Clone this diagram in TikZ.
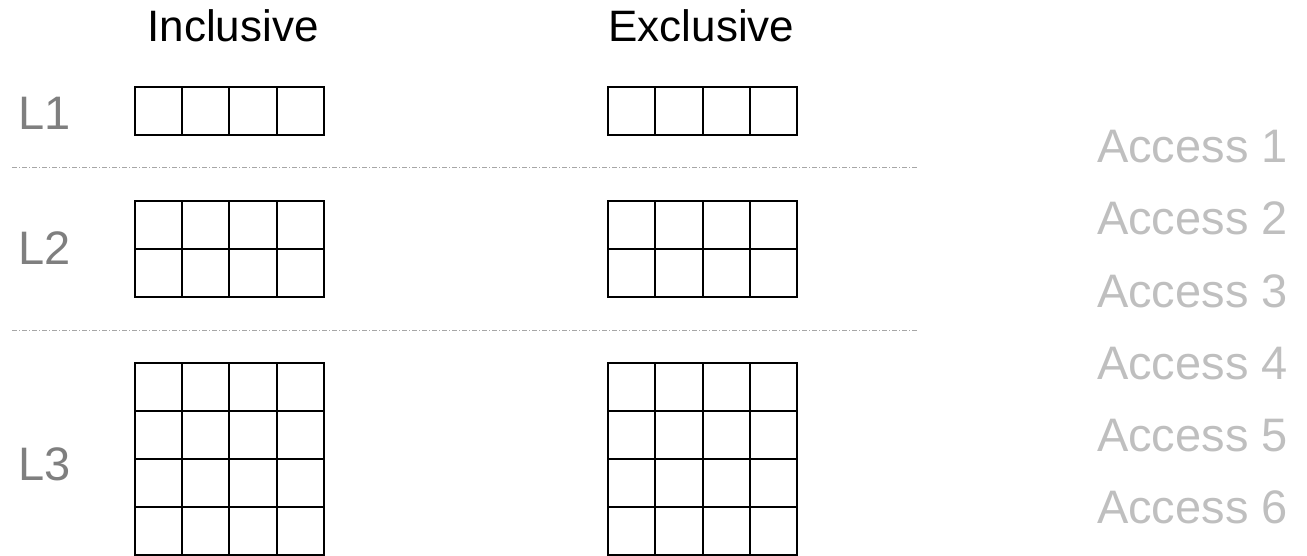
\documentclass[tikz,border=0pt]{standalone}
\usepackage{fontspec}
\setmainfont{Liberation Sans}
\definecolor{levelgray}{HTML}{7F7F7F}
\definecolor{accessgray}{HTML}{BFBFBF}
\definecolor{sepgray}{HTML}{A6A6A6}
\tikzset{
  cellbox/.style={draw=black, line width=2pt},
  heading/.style={anchor=base, font=\fontsize{44}{48}\selectfont, text=black, inner sep=0pt},
  levellabel/.style={anchor=base west, font=\fontsize{47}{50}\selectfont, text=levelgray, inner sep=0pt},
  accesslabel/.style={anchor=base east, font=\fontsize{47}{50}\selectfont, text=accessgray, inner sep=0pt},
  sepline/.style={draw=sepgray, line width=1pt, dash pattern=on 5pt off 2pt on 1pt off 2pt}
}
\newcommand\cachegrid[3]{%
  \foreach \r in {1,...,#3}{
    \foreach \c in {1,...,4}{
      \draw[cellbox] ({#1+(\c-1)*47.35},{#2+(\r-1)*48}) rectangle ++(47.35,48);
    }
  }
}
\begin{document}
\begin{tikzpicture}[x=1pt,y=-1pt]
  \useasboundingbox (0,0) rectangle (1307,556);
  % headings
  \node[heading] (inc) at (233,41.7) {Inclusive};
  \node[heading] (exc) at (701.5,42) {Exclusive};
  % level labels
  \node[levellabel] (l1) at (18.5,130) {L1};
  \node[levellabel] (l2) at (18.5,265) {L2};
  \node[levellabel] (l3) at (18.5,480) {L3};
  % separators
  \coordinate (s1a) at (12,167.7);
  \coordinate (s1b) at (918,167.7);
  \coordinate (s2a) at (12,330);
  \coordinate (s2b) at (918,330);
  \draw[sepline] (s1a) -- (s1b);
  \draw[sepline] (s2a) -- (s2b);
  % grids
  \cachegrid{134.7}{87.5}{1}
  \cachegrid{607.8}{87.5}{1}
  \cachegrid{134.7}{201}{2}
  \cachegrid{607.8}{201}{2}
  \cachegrid{134.7}{362.7}{4}
  \cachegrid{607.8}{362.7}{4}
  % access labels
  \node[accesslabel] (a1) at (1288,163) {Access 1};
  \node[accesslabel] (a2) at (1288,235) {Access 2};
  \node[accesslabel] (a3) at (1288,307) {Access 3};
  \node[accesslabel] (a4) at (1288,379) {Access 4};
  \node[accesslabel] (a5) at (1288,451) {Access 5};
  \node[accesslabel] (a6) at (1288,523) {Access 6};
\end{tikzpicture}
\end{document}
